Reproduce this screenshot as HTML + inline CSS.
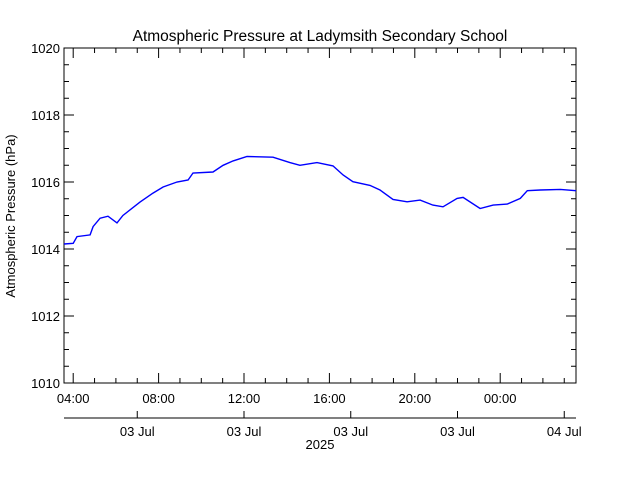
<!DOCTYPE html>
<html><head><meta charset="utf-8"><style>
body{margin:0;background:#fff}
svg text{font-family:"Liberation Sans",sans-serif;fill:#000}
</style></head><body>
<svg id="chart" width="640" height="480" viewBox="0 0 640 480" xmlns="http://www.w3.org/2000/svg">
<rect width="640" height="480" fill="#fff"/>
<text x="320" y="41" font-size="15.5" text-anchor="middle">Atmospheric Pressure at Ladymsith Secondary School</text>
<text transform="translate(15,216) rotate(-90)" font-size="13" text-anchor="middle">Atmospheric Pressure (hPa)</text>
<g id="axes"></g>
<g id="series"></g>
</svg>
<script>
// data: time in hours since 03 Jul 00:00, pressure in hPa
const times = [3.57,4.0,4.18,4.79,4.93,5.26,5.63,6.05,6.33,7.13,7.74,8.21,8.86,9.38,9.61,10.55,11.02,11.49,12.14,13.36,14.15,14.62,15.42,16.17,16.64,17.1,17.9,18.37,18.98,19.64,20.25,20.85,21.32,21.98,22.26,23.06,23.67,24.33,24.94,25.27,25.88,26.82,27.55];
const pressure = [1014.15,1014.17,1014.37,1014.42,1014.67,1014.92,1014.98,1014.78,1015.0,1015.4,1015.67,1015.85,1016.0,1016.06,1016.27,1016.3,1016.5,1016.63,1016.76,1016.74,1016.58,1016.5,1016.58,1016.48,1016.21,1016.01,1015.9,1015.76,1015.48,1015.41,1015.46,1015.31,1015.26,1015.51,1015.54,1015.21,1015.31,1015.34,1015.51,1015.74,1015.76,1015.78,1015.74];
const yTicks = [1010,1012,1014,1016,1018,1020];
const xTickHours = [4,8,12,16,20,24];
const xTickLabels = ["04:00","08:00","12:00","16:00","20:00","00:00"];
const dateTickHours = [7,12,17,22,27];
const dateTickLabels = ["03 Jul","03 Jul","03 Jul","03 Jul","04 Jul"];

const L=64,R=576,T=48,B=383;
const hPerPx=21.35, h0=4, x0=73.2;
const xs=h=>x0+(h-h0)*hPerPx;
const ys=p=>B-(p-1010)*(B-T)/10;
const NS="http://www.w3.org/2000/svg";
const axes=document.getElementById('axes');
function mk(tag,attrs,parent){const e=document.createElementNS(NS,tag);for(const k in attrs)e.setAttribute(k,attrs[k]);parent.appendChild(e);return e;}
function line(x1,y1,x2,y2,name){const e=mk('line',{x1,y1,x2,y2,stroke:'#000','stroke-width':1},axes);

return e;}
const frame=mk('rect',{x:L,y:T,width:R-L,height:B-T,fill:'none',stroke:'#000','stroke-width':1},axes);


// y ticks
for(let p=1010;p<=1020.001;p+=0.5){const y=ys(p);const major=Math.abs(p-Math.round(p/2)*2)<1e-6;const len=major?10:5;
line(L,y,L+len,y,'y-tick');line(R,y,R-len,y,'y-tick-right');}
yTicks.forEach(v=>{const t=mk('text',{x:L-4,y:ys(v)+5,'font-size':13,'text-anchor':'end'},axes);t.textContent=v;

});
// x ticks
for(let h=4;xs(h)<=R;h+=1){const x=xs(h);const major=(h%4===0);const len=major?10:5;
line(x,B,x,B-len,'x-tick');line(x,T,x,T+len,'x-tick-top');}
xTickHours.forEach((h,i)=>{const t=mk('text',{x:xs(h),y:403,'font-size':13,'text-anchor':'middle'},axes);t.textContent=xTickLabels[i];

});
// date axis
line(L,418,R,418,'date-axis');
dateTickHours.forEach((h,i)=>{const x=xs(h);line(x,418,x,411,'date-tick');
const t=mk('text',{x:x,y:436,'font-size':13,'text-anchor':'middle'},axes);t.textContent=dateTickLabels[i];

});
const yr=mk('text',{x:320,y:449,'font-size':13,'text-anchor':'middle'},axes);yr.textContent="2025";


// series
const pts=times.map((h,i)=>xs(h).toFixed(1)+','+ys(pressure[i]).toFixed(1)).join(' ');
const pl=mk('polyline',{points:pts,fill:'none',stroke:'#0000ff','stroke-width':1.4},document.getElementById('series'));


</script>
</body></html>
